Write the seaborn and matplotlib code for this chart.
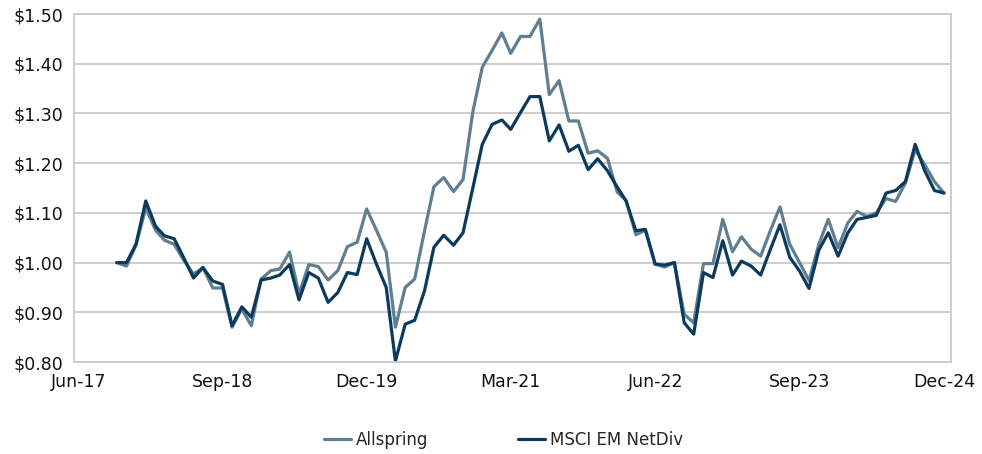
import numpy as np
import pandas as pd
import seaborn as sns
import matplotlib.pyplot as plt
import matplotlib.dates as mdates

# monthly growth of $1, Oct-17 .. Dec-24
dates = pd.date_range("2017-10-01", "2024-12-01", freq="MS")

allspring = [1.000, 0.993, 1.035, 1.110, 1.065, 1.045, 1.037, 1.005, 0.977, 0.990,
             0.949, 0.949, 0.870, 0.907, 0.873, 0.967, 0.984, 0.987, 1.021, 0.937,
             0.996, 0.992, 0.965, 0.984, 1.032, 1.041, 1.108, 1.065, 1.021, 0.870,
             0.950, 0.967, 1.063, 1.153, 1.171, 1.143, 1.167, 1.303, 1.393, 1.427,
             1.462, 1.421, 1.455, 1.455, 1.490, 1.338, 1.366, 1.285, 1.285, 1.220,
             1.225, 1.210, 1.142, 1.125, 1.056, 1.065, 0.997, 0.991, 1.000, 0.896,
             0.879, 0.998, 0.998, 1.087, 1.022, 1.052, 1.027, 1.013, 1.065, 1.112,
             1.037, 1.000, 0.964, 1.037, 1.087, 1.030, 1.080, 1.103, 1.093, 1.100,
             1.129, 1.123, 1.160, 1.227, 1.197, 1.163, 1.140]

msci = [1.000, 1.000, 1.037, 1.124, 1.073, 1.054, 1.048, 1.010, 0.969, 0.990,
        0.963, 0.956, 0.873, 0.911, 0.890, 0.965, 0.969, 0.975, 0.996, 0.925,
        0.980, 0.969, 0.920, 0.940, 0.980, 0.976, 1.048, 0.997, 0.950, 0.802,
        0.876, 0.884, 0.943, 1.031, 1.055, 1.035, 1.060, 1.150, 1.238, 1.278,
        1.287, 1.268, 1.302, 1.334, 1.334, 1.245, 1.277, 1.224, 1.236, 1.187,
        1.209, 1.185, 1.152, 1.124, 1.064, 1.067, 0.997, 0.995, 1.000, 0.879,
        0.856, 0.980, 0.970, 1.044, 0.975, 1.003, 0.993, 0.975, 1.027, 1.076,
        1.011, 0.983, 0.948, 1.025, 1.060, 1.013, 1.060, 1.087, 1.091, 1.095,
        1.140, 1.145, 1.163, 1.238, 1.185, 1.145, 1.140]

series_names = ["Allspring", "MSCI EM NetDiv"]
tick_dates = pd.date_range("2017-06-01", "2024-12-01", freq="15MS")
y_ticks = [0.80, 0.90, 1.00, 1.10, 1.20, 1.30, 1.40, 1.50]

df = pd.DataFrame({"date": list(dates) * 2,
                   "value": allspring + msci,
                   "series": [series_names[0]] * len(dates) + [series_names[1]] * len(dates)})

sns.set_style("white")
plt.rcParams["font.family"] = ["DejaVu Sans"]

fig = plt.figure(figsize=(9.82, 4.54), dpi=100)
ax = fig.add_axes([0.0754, 0.2026, 0.8926, 0.7664])

palette = {"Allspring": "#5f7f91", "MSCI EM NetDiv": "#0b3a5c"}
sns.lineplot(data=df, x="date", y="value", hue="series", palette=palette,
             linewidth=2.3, ax=ax, legend=True)

grid_c = "#c9c9c9"
ax.set_ylim(0.80, 1.50)
ax.set_yticks(y_ticks)
ax.set_yticklabels(["${:.2f}".format(v) for v in y_ticks])
ax.set_xlim(pd.Timestamp("2017-05-19"), pd.Timestamp("2024-12-22"))
ax.set_xticks(tick_dates)
ax.xaxis.set_major_formatter(mdates.DateFormatter("%b-%y"))
ax.yaxis.grid(True, color=grid_c, linewidth=1.3)
ax.set_axisbelow(True)
for s in ax.spines.values():
    s.set_color(grid_c)
    s.set_linewidth(1.3)
ax.tick_params(axis="y", length=0, labelsize=12.5, pad=8, colors="#111111")
ax.tick_params(axis="x", direction="in", length=5, color=grid_c, labelsize=12.5, pad=8,
               labelcolor="#111111")
ax.set_xlabel("")
ax.set_ylabel("")

handles, labels = ax.get_legend_handles_labels()
ax.legend_.remove()
fig.legend(handles, labels, loc="center", bbox_to_anchor=(0.513, 0.031), ncol=2,
           frameon=False, fontsize=12, handlelength=1.6, handletextpad=0.3,
           columnspacing=5.4)

fig.savefig("out.png", dpi=100)
